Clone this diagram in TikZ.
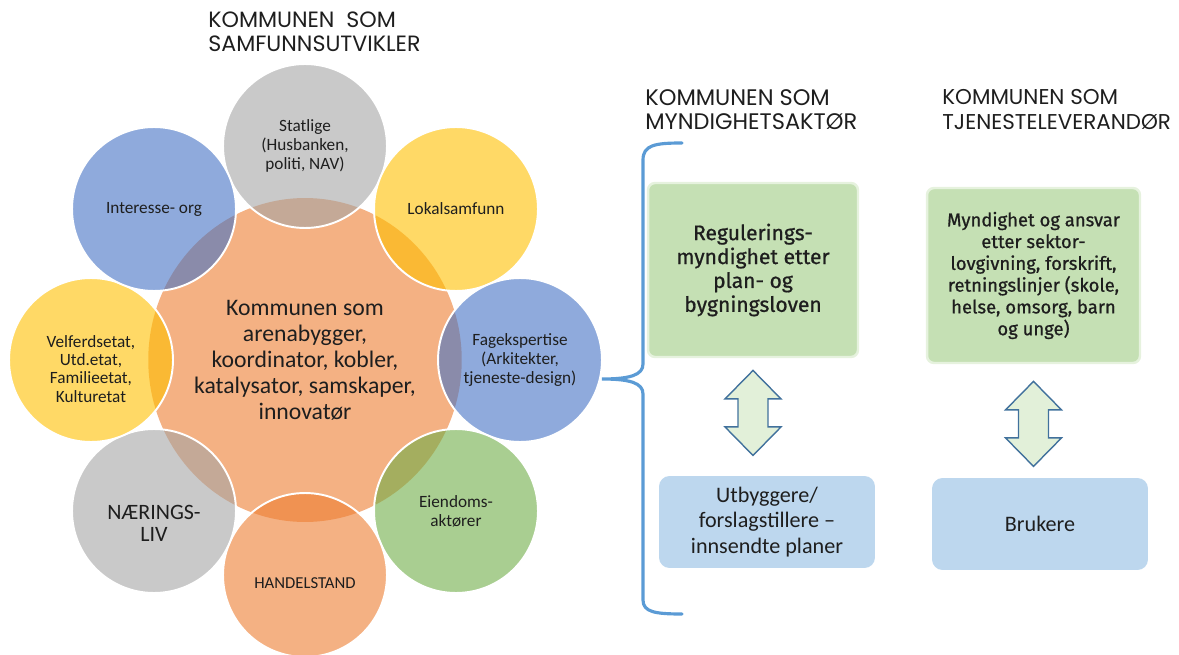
\documentclass[tikz,border=0pt]{standalone}
\usepackage{fontspec}
\setmainfont{Carlito}
\newfontfamily\headfont{Poppins}
\newfontfamily\dinfont{Fira Sans}[FakeBold=0.8]
\usetikzlibrary{positioning,shapes.geometric,calc}

\definecolor{vgray}{HTML}{A5A5A5}
\definecolor{vblue}{HTML}{4472C4}
\definecolor{vyellow}{HTML}{FFC000}
\definecolor{vorange}{HTML}{ED7D31}
\definecolor{vgreen}{HTML}{70AD47}
\definecolor{boxgreen}{HTML}{C5E0B4}
\definecolor{boxrim}{HTML}{E6F2DE}
\definecolor{boxblue}{HTML}{BDD7EE}
\definecolor{bracecol}{HTML}{5B9BD5}
\definecolor{arrowfill}{HTML}{E2F0D9}
\definecolor{arrowline}{HTML}{41719C}
\definecolor{ink}{HTML}{1E1E1E}

\begin{document}
\begin{tikzpicture}[
  x=0.02cm, y=-0.02cm,
  every node/.style={text=ink},
  core/.style={ellipse, minimum width=6.2cm, minimum height=6.48cm, inner sep=0pt, fill=vorange, fill opacity=0.6, text opacity=1, align=center, font=\fontsize{13.5}{14.8}\selectfont},
  venn/.style={circle, minimum size=3.28cm, inner sep=0pt, fill=#1, fill opacity=0.6, text opacity=1, draw=white, line width=1.1pt, align=center, font=\fontsize{9.8}{10.8}\selectfont},
  vtext/.style={align=center, inner sep=0pt, font=\fontsize{9.8}{10.5}\selectfont},
  head/.style={anchor=west, align=left, inner sep=0pt, font=\headfont\fontsize{12.6}{13.8}\selectfont},
  rulebox/.style={draw=boxrim, line width=1.4pt, fill=boxgreen, rounded corners=4pt, align=center, inner sep=2pt},
  partbox/.style={fill=boxblue, rounded corners=6pt, align=center, inner sep=2pt, font=\fontsize{12.6}{14.5}\selectfont},
  dblarrow/.pic={\draw[fill=arrowfill, draw=arrowline, line width=0.8pt]
    (0,-42.5) -- (28,-14) -- (15,-14) -- (15,14) -- (28,14) -- (0,42.5)
    -- (-28,14) -- (-15,14) -- (-15,-14) -- (-28,-14) -- cycle;}
]
\useasboundingbox (0,0) rectangle (1179,655);

% venn of actors round the municipality
\node[core] (kommune) at (305,360) {Kommunen som\\arenabygger,\\koordinator, kobler,\\katalysator, samskaper,\\innovatør};
\node[venn=vgray] (statlige) at ($(kommune)+(0,-214)$) {Statlige\\(Husbanken,\\politi, NAV)};
\node[venn=vyellow] (lokal) at ($(kommune)+(151,-151)$) {Lokalsamfunn};
\node[venn=vblue] (fag) at ($(kommune)+(215,0)$) {Fagekspertise\\(Arkitekter,\\tjeneste-design)};
\node[venn=vgreen] (eiendom) at ($(kommune)+(151,151)$) {Eiendoms-\\aktører};
\node[venn=vorange, label={[vtext, font=\fontsize{9.5}{11}\selectfont, yshift=-4.5pt]center:HANDELSTAND}] (handel) at ($(kommune)+(0,215)$) {};
\node[venn=vgray, label={[vtext, font=\fontsize{12.5}{13}\selectfont, yshift=-7pt]center:NÆRINGS-\\LIV}] (naering) at ($(kommune)+(-151,151)$) {};
\node[venn=vyellow, label={[vtext, yshift=-5pt]center:Velferdsetat,\\Utd.etat,\\Familieetat,\\Kulturetat}] (velferd) at ($(kommune)+(-214,0)$) {};
\node[venn=vblue] (interesse) at ($(kommune)+(-151,-151)$) {Interesse- org};

\node[head] (tsamf) at (208,31.5) {KOMMUNEN\ \ SOM\\SAMFUNNSUTVIKLER};

% brace
\draw[bracecol, line width=1.8pt, line cap=round]
  (682,143) .. controls (655,143) and (643,145) .. (643,160) -- (643,364)
  .. controls (643,375) and (630,379) .. (602,379)
  .. controls (630,379) and (643,383) .. (643,394) -- (643,600)
  .. controls (643,612) and (655,614) .. (682,614);

% authority
\node[head, font=\headfont\fontsize{12.8}{14}\selectfont] (tmynd) at (645,109.5) {KOMMUNEN SOM\\MYNDIGHETSAKTØR};
\node[rulebox, minimum width=4.2cm, minimum height=3.48cm, font=\dinfont\fontsize{12}{13.6}\selectfont] (reg) at (753,270) {Regulerings-\\myndighet etter\\plan- og\\bygningsloven};
\node[partbox, minimum width=4.32cm, minimum height=1.84cm] (utb) at (767,522) {Utbyggere/\\forslagstillere --\\innsendte planer};
\pic at ($(reg.south)!0.466!(reg.south |- utb.north)$) {dblarrow};

% services
\node[head, font=\headfont\fontsize{12.2}{14}\selectfont] (ttjen) at (942,109.5) {KOMMUNEN SOM\\TJENESTELEVERANDØR};
\node[rulebox, minimum width=4.26cm, minimum height=3.5cm, font=\dinfont\fontsize{10.5}{12.4}\selectfont] (sektor) at (1033.5,275.5) {Myndighet og ansvar\\etter sektor-\\lovgivning, forskrift,\\retningslinjer (skole,\\helse, omsorg, barn\\og unge)};
\node[partbox, minimum width=4.32cm, minimum height=1.84cm] (brukere) at (1040,524) {Brukere};
\pic at ($(sektor.south)!0.526!(sektor.south |- brukere.north)$) {dblarrow};
\end{tikzpicture}
\end{document}
